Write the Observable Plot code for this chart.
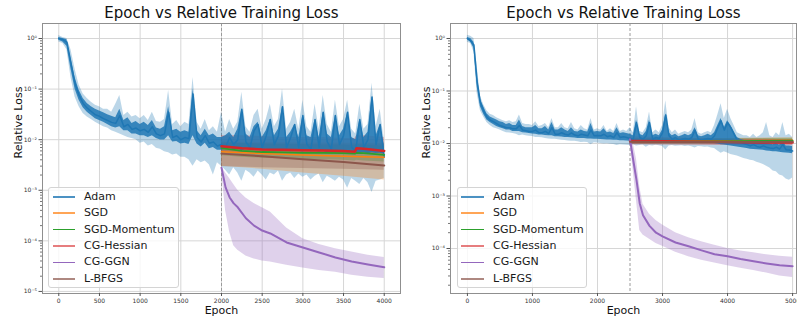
<!DOCTYPE html>
<html><head><meta charset="utf-8">
<script src="https://cdn.jsdelivr.net/npm/d3@7"></script>
<script src="https://cdn.jsdelivr.net/npm/@observablehq/plot@0.6"></script>
<style>
body{margin:0;background:#fff;font-family:"DejaVu Sans",sans-serif;}
#wrap{position:relative;width:797px;height:320px;display:flex;overflow:hidden;}
#wrap svg{display:block;flex:none;}
.legend{position:absolute;top:187px;height:101px;background:rgba(255,255,255,0.8);border:1px solid #d4d4d4;border-radius:3px;box-sizing:border-box;}
.row{position:absolute;left:0;right:0;height:16px;}
.sw{position:absolute;top:50%;}
.lab{position:absolute;top:0;line-height:16px;font-size:11px;color:#1a1a1a;white-space:nowrap;}
</style></head>
<body><div id="wrap"></div>
<script>
// ---------------- data ----------------
const names = ["Adam", "SGD", "SGD-Momentum", "CG-Hessian", "CG-GGN", "L-BFGS"];
const colors = ["#1f77b4", "#ff7f0e", "#2ca02c", "#d62728", "#9467bd", "#8c564b"];
const title = "Epoch vs Relative Training Loss";
const xLabel = "Epoch";
const yLabel = "Relative Loss";

// left panel (4000 epochs, switch at 2000)
const xTicksL = [0, 500, 1000, 1500, 2000, 2500, 3000, 3500, 4000];
const yTicksL = [1e-5, 1e-4, 1e-3, 1e-2, 1e-1, 1];
const switchL = 2000;
const adamEpochsL = d3.range(0, 4001, 50);
const adamMeanL = [1.0,0.95,0.85,0.33,0.13,0.075,0.052,0.042,0.036,0.031,0.029,0.026,0.024,0.022,0.021,0.03,0.018,0.02,0.016,0.017,0.015,0.016,0.014,0.018,0.013,0.012,0.013,0.035,0.011,0.012,0.01,0.011,0.0105,0.08,0.011,0.009,0.012,0.0085,0.009,0.0075,0.008,
 0.007,0.011,0.008,0.01,0.04,0.009,0.007,0.015,0.02,0.007,0.012,0.025,0.008,0.012,0.045,0.007,0.011,0.02,0.007,0.03,0.008,0.0065,0.025,0.007,0.035,0.009,0.0065,0.03,0.008,0.012,0.035,0.007,0.006,0.025,0.007,0.01,0.07,0.008,0.02,0.0045];
// envelope of the noisy Adam mean curve (dark band)
const adamDarkLoL = [0.92,0.85,0.7,0.25,0.1,0.06,0.043,0.035,0.03,0.026,0.024,0.022,0.02,0.018,0.017,0.018,0.015,0.015,0.013,0.013,0.012,0.012,0.011,0.012,0.0105,0.0098,0.0098,0.012,0.009,0.0092,0.0082,0.0085,0.008,0.012,0.0082,0.0072,0.0085,0.0066,0.007,0.0062,0.0062,
 0.0065,0.007,0.0062,0.0068,0.006,0.0065,0.0068,0.0062,0.0066,0.0061,0.0065,0.0062,0.0059,0.0064,0.0061,0.0062,0.0058,0.0062,0.006,0.0057,0.0061,0.0058,0.006,0.0057,0.0059,0.0056,0.0058,0.0055,0.0057,0.0059,0.0054,0.0056,0.0058,0.0054,0.0056,0.0052,0.0055,0.0053,0.0054,0.0052];
const adamDarkHiL = [1.05,1.0,0.95,0.4,0.17,0.095,0.065,0.052,0.045,0.04,0.037,0.034,0.031,0.029,0.027,0.04,0.024,0.027,0.021,0.023,0.02,0.022,0.019,0.024,0.017,0.016,0.018,0.045,0.015,0.016,0.014,0.015,0.014,0.1,0.015,0.012,0.016,0.012,0.013,0.011,0.011,
 0.012,0.014,0.011,0.016,0.04,0.013,0.011,0.018,0.022,0.011,0.015,0.025,0.012,0.016,0.045,0.011,0.014,0.02,0.011,0.03,0.012,0.011,0.025,0.011,0.035,0.013,0.011,0.03,0.012,0.016,0.035,0.011,0.01,0.025,0.011,0.014,0.07,0.012,0.02,0.008];
const adamLoL = [0.85,0.8,0.6,0.17,0.07,0.045,0.033,0.028,0.025,0.022,0.02,0.018,0.017,0.015,0.014,0.013,0.012,0.011,0.0105,0.01,0.0085,0.009,0.0075,0.008,0.0068,0.0065,0.0058,0.0055,0.005,0.0052,0.0045,0.0045,0.004,0.003,0.004,0.0035,0.0038,0.0032,0.002,0.0035,0.003,
 0.0025,0.002,0.0028,0.0022,0.0015,0.0025,0.0022,0.0018,0.0024,0.002,0.0016,0.0022,0.002,0.0024,0.0015,0.002,0.0022,0.0017,0.0021,0.0018,0.002,0.0016,0.0019,0.0021,0.0014,0.0019,0.0017,0.0015,0.0018,0.0016,0.0011,0.0017,0.0015,0.0013,0.0017,0.0014,0.0009,0.0015,0.0016,0.0017];
const adamHiL = [1.15,1.05,1.0,0.6,0.25,0.12,0.08,0.065,0.055,0.048,0.045,0.04,0.04,0.035,0.05,0.075,0.03,0.035,0.028,0.03,0.026,0.03,0.024,0.035,0.023,0.022,0.025,0.094,0.02,0.024,0.018,0.022,0.02,0.17,0.022,0.016,0.025,0.015,0.018,0.014,0.035,
 0.014,0.025,0.016,0.022,0.087,0.018,0.014,0.03,0.04,0.016,0.025,0.05,0.018,0.025,0.1,0.016,0.022,0.04,0.016,0.06,0.018,0.014,0.05,0.016,0.075,0.02,0.014,0.06,0.018,0.025,0.06,0.016,0.013,0.05,0.016,0.02,0.13,0.018,0.04,0.01];

const stepEpochsL = [2000, 2250, 2500, 2750, 3000, 3250, 3500, 3640, 3660, 3750, 4000];
const hessMeanL = [0.0074,0.0068,0.0064,0.0063,0.0062,0.0061,0.006,0.0058,0.0068,0.0066,0.006];
const hessHiL = [0.012,0.012,0.0115,0.011,0.011,0.011,0.0105,0.0105,0.012,0.012,0.011];
const hessLoL = [0.0058,0.0056,0.0055,0.0054,0.0053,0.0052,0.0052,0.0051,0.0056,0.0055,0.0052];
const momMeanL = [0.0068,0.006,0.0057,0.0056,0.0055,0.0055,0.0054,0.0053,0.0055,0.0054,0.005];
const momHiL = [0.009,0.0085,0.0082,0.008,0.008,0.0078,0.0078,0.0076,0.008,0.0078,0.0075];
const momLoL = [0.0048,0.0045,0.0043,0.0042,0.0041,0.004,0.0039,0.0038,0.0039,0.0038,0.0036];
const coarseEpochsL = [2000, 2500, 3000, 3500, 4000];
const sgdMeanL = [0.0058,0.0053,0.005,0.0047,0.0045];
const sgdHiL = [0.009,0.0088,0.0087,0.0086,0.0085];
const sgdLoL = [0.003,0.0026,0.0022,0.0019,0.0016];
const lbfgsMeanL = [0.0053,0.0047,0.0041,0.0036,0.0031];
const lbfgsHiL = [0.0085,0.0083,0.0082,0.0082,0.0082];
const lbfgsLoL = [0.0029,0.0028,0.0027,0.0026,0.0025];
const ggnEpochsL = [2000,2050,2100,2150,2200,2300,2400,2500,2600,2800,3000,3200,3400,3600,3800,4000];
const ggnMeanL = [0.0028,0.00114,7.2e-4,5.5e-4,4.6e-4,2.8e-4,2.0e-4,1.6e-4,1.4e-4,9.3e-5,7.4e-5,5.9e-5,4.7e-5,3.9e-5,3.4e-5,3.0e-5];
const ggnHiL = [0.003,0.0022,0.0017,0.0013,0.001,7e-4,5.5e-4,4.5e-4,3.7e-4,1.8e-4,1.1e-4,8.5e-5,7e-5,6e-5,5.2e-5,4.7e-5];
const ggnLoL = [0.0025,4e-4,1.5e-4,8e-5,6.5e-5,5e-5,4.4e-5,4e-5,3.8e-5,3.3e-5,2.9e-5,2.6e-5,2.4e-5,2.1e-5,1.9e-5,1.8e-5];

// right panel (5000 epochs, switch at 2500)
const xTicksR = [0, 1000, 2000, 3000, 4000, 5000];
const yTicksR = [1e-4, 1e-3, 1e-2, 1e-1, 1];
const switchR = 2500;
const adamEpochsR = d3.range(0, 5001, 50);
const adamMeanR = [1.0,0.9,0.75,0.15,0.06,0.042,0.032,0.028,0.026,0.024,0.022,0.021,0.02,0.02,0.019,0.019,0.022,0.018,0.0175,0.017,0.017,0.018,0.016,0.016,0.017,0.0155,0.02,0.015,0.015,0.016,0.015,0.0145,0.016,0.0145,0.014,0.015,0.0145,0.014,0.018,0.014,0.0142,0.014,0.015,0.0135,0.014,0.013,0.016,0.013,0.0135,0.013,0.0125,
 0.012,0.025,0.013,0.012,0.014,0.025,0.012,0.013,0.0125,0.016,0.035,0.014,0.012,0.013,0.0115,0.012,0.0125,0.012,0.013,0.018,0.012,0.0115,0.012,0.0125,0.012,0.014,0.02,0.027,0.018,0.025,0.02,0.015,0.0115,0.011,0.01,0.0095,0.009,0.0095,0.0088,0.0085,0.009,0.0085,0.0082,0.008,0.0085,0.0078,0.0095,0.0076,0.0075,0.0072];
const adamDarkLoR = [0.95,0.85,0.65,0.12,0.05,0.036,0.028,0.025,0.023,0.021,0.02,0.019,0.018,0.018,0.017,0.017,0.017,0.016,0.0158,0.0155,0.0152,0.015,0.0145,0.0145,0.0142,0.014,0.014,0.0135,0.0135,0.0133,0.013,0.013,0.0128,0.0127,0.0125,0.0125,0.0124,0.0122,0.0122,0.012,0.012,0.0119,0.0118,0.0117,0.0116,0.0115,0.0115,0.0113,0.0113,0.0112,0.011,
 0.0106,0.0105,0.0107,0.0106,0.0105,0.0106,0.0105,0.0106,0.0105,0.0104,0.0105,0.0104,0.0105,0.0104,0.0103,0.0104,0.0103,0.0104,0.0103,0.0102,0.0103,0.0102,0.0101,0.0102,0.0101,0.01,0.0098,0.0095,0.0094,0.0092,0.009,0.0088,0.0086,0.0084,0.0082,0.008,0.0078,0.0077,0.0076,0.0075,0.0074,0.0072,0.0071,0.007,0.007,0.0068,0.0067,0.0066,0.0065,0.0064];
const adamDarkHiR = [1.05,1.0,0.85,0.2,0.07,0.05,0.037,0.032,0.03,0.028,0.026,0.025,0.023,0.024,0.022,0.022,0.028,0.021,0.02,0.02,0.02,0.022,0.019,0.019,0.021,0.018,0.025,0.018,0.018,0.02,0.018,0.017,0.02,0.017,0.0165,0.018,0.017,0.0165,0.024,0.0165,0.017,0.0165,0.019,0.016,0.0165,0.0155,0.02,0.0155,0.016,0.0155,0.015,
 0.014,0.028,0.015,0.014,0.017,0.028,0.014,0.015,0.014,0.018,0.037,0.016,0.014,0.015,0.0135,0.014,0.015,0.014,0.015,0.02,0.014,0.0135,0.014,0.015,0.014,0.016,0.022,0.03,0.02,0.027,0.022,0.017,0.013,0.012,0.0115,0.011,0.0105,0.011,0.0102,0.01,0.0105,0.01,0.0098,0.0095,0.01,0.0093,0.011,0.009,0.009,0.0088];
const adamHiR = [1.15,1.1,1.0,0.3,0.08,0.055,0.042,0.036,0.034,0.031,0.029,0.027,0.026,0.027,0.025,0.026,0.035,0.024,0.023,0.023,0.022,0.026,0.021,0.022,0.024,0.02,0.03,0.02,0.02,0.024,0.02,0.019,0.025,0.019,0.018,0.022,0.019,0.018,0.03,0.018,0.019,0.018,0.022,0.017,0.019,0.017,0.024,0.017,0.018,0.017,0.02,
 0.016,0.05,0.017,0.016,0.02,0.04,0.016,0.018,0.016,0.022,0.065,0.02,0.016,0.018,0.015,0.016,0.017,0.016,0.018,0.03,0.016,0.015,0.016,0.017,0.016,0.022,0.035,0.057,0.03,0.045,0.03,0.022,0.016,0.015,0.014,0.014,0.013,0.015,0.013,0.014,0.016,0.025,0.014,0.013,0.016,0.014,0.025,0.014,0.015,0.013];
const adamLoR = [0.85,0.8,0.55,0.09,0.042,0.032,0.025,0.022,0.02,0.019,0.018,0.017,0.016,0.0158,0.0155,0.015,0.014,0.0145,0.014,0.0138,0.0136,0.013,0.013,0.0128,0.0125,0.0122,0.012,0.012,0.0118,0.0115,0.0114,0.0112,0.011,0.011,0.0108,0.0105,0.0106,0.0104,0.0095,0.0103,0.0102,0.01,0.0098,0.0099,0.0097,0.0096,0.0092,0.0095,0.0094,0.0093,0.0092,
 0.0095,0.009,0.0092,0.0094,0.0085,0.0092,0.009,0.0093,0.0091,0.0088,0.0075,0.009,0.0092,0.0089,0.009,0.0091,0.0088,0.009,0.0087,0.0082,0.0088,0.0087,0.0085,0.0086,0.0082,0.008,0.0072,0.0065,0.007,0.0066,0.0062,0.006,0.0058,0.0055,0.0052,0.005,0.0048,0.0047,0.0044,0.0042,0.004,0.0037,0.0034,0.003,0.0029,0.0025,0.0024,0.0021,0.002,0.0022];

const stepEpochsR = [2500, 3000, 3500, 4000, 4500, 5000];
const hessMeanR = [0.0112,0.011,0.0108,0.0107,0.0105,0.0104];
const hessHiR = [0.0135,0.013,0.0125,0.012,0.012,0.0118];
const hessLoR = [0.0095,0.0094,0.0093,0.0092,0.0092,0.0091];
const sgdMeanR = [0.0112,0.0112,0.0112,0.0113,0.0114,0.0115];
const sgdHiR = [0.0125,0.0124,0.0124,0.0125,0.0127,0.0128];
const sgdLoR = [0.0099,0.0099,0.0099,0.01,0.01,0.0101];
const momMeanR = [0.011,0.011,0.011,0.0111,0.0112,0.0113];
const momHiR = [0.0123,0.0122,0.0122,0.0123,0.0125,0.0126];
const momLoR = [0.0098,0.0098,0.0098,0.0099,0.0099,0.01];
const lbfgsMeanR = [0.0108,0.0107,0.0107,0.0107,0.0107,0.0108];
const lbfgsHiR = [0.012,0.0119,0.0119,0.012,0.012,0.0121];
const lbfgsLoR = [0.0096,0.0095,0.0095,0.0095,0.0095,0.0095];
const ggnEpochsR = [2500,2550,2600,2650,2700,2800,2900,3000,3200,3400,3600,3800,4000,4200,4400,4600,4800,5000];
const ggnMeanR = [0.012,0.0048,0.002,7.2e-4,4.3e-4,2.7e-4,2e-4,1.7e-4,1.3e-4,1.1e-4,9.2e-5,7.8e-5,7.1e-5,6.3e-5,5.7e-5,5.2e-5,4.8e-5,4.6e-5];
const ggnHiR = [0.013,0.01,0.005,1.5e-3,7e-4,4.5e-4,3.4e-4,2.8e-4,2e-4,1.6e-4,1.35e-4,1.15e-4,1e-4,9e-5,8.3e-5,7.6e-5,7.1e-5,6.8e-5];
const ggnLoR = [0.011,0.003,8e-4,2.2e-4,1.8e-4,1.5e-4,1.25e-4,1.1e-4,8.5e-5,7e-5,6e-5,5.3e-5,4.7e-5,4.2e-5,3.8e-5,3.4e-5,3e-5,2.8e-5];

// ---------------- helpers ----------------
function rows(epochs, mean, lo, hi) {
  return epochs.map((e, i) => ({epoch: e, mean: mean[i], lo: lo[i], hi: hi[i]}));
}
const sup = {"-":"⁻","0":"⁰","1":"¹","2":"²","3":"³","4":"⁴","5":"⁵","6":"⁶","7":"⁷","8":"⁸","9":"⁹"};
const fmtPow = v => "10" + String(Math.round(Math.log10(v))).split("").map(c => sup[c]).join("");
function minorTicks(domain) {
  const out = [];
  for (let k = -6; k <= 0; k++) for (let m = 2; m <= 9; m++) {
    const v = m * Math.pow(10, k);
    if (v > domain[0] && v < domain[1]) out.push(v);
  }
  return out;
}
const widths = [1.5, 1.5, 1.8, 2.5, 2, 2];

function panel(cfg) {
  const marks = [
    Plot.gridX(cfg.xTicks, {stroke: "#d6d6d6", strokeOpacity: 1, strokeWidth: 1}),
    Plot.gridY(cfg.yTicks, {stroke: "#d6d6d6", strokeOpacity: 1, strokeWidth: 1}),
    Plot.ruleX([cfg.switchAt], {stroke: "#9a9a9a", strokeWidth: 1, strokeDasharray: "3,2"})
  ];
  const adam = cfg.series[0];
  // light bands
  cfg.series.forEach(s => {
    const ci = names.indexOf(s.name);
    marks.push(Plot.areaY(s.data, {x: "epoch", y1: "lo", y2: "hi", fill: colors[ci], fillOpacity: 0.3, clip: true}));
  });
  // Adam noisy curve
  marks.push(Plot.areaY(cfg.adamDark, {x: "epoch", y1: "lo", y2: "hi", fill: colors[0], fillOpacity: 0.85, clip: true}));
  marks.push(Plot.lineY(adam.data, {x: "epoch", y: "mean", stroke: colors[0], strokeWidth: widths[0], clip: true}));
  cfg.series.slice(1).forEach(s => {
    const ci = names.indexOf(s.name);
    marks.push(Plot.lineY(s.data, {x: "epoch", y: "mean", stroke: colors[ci], strokeWidth: widths[ci], clip: true}));
  });
  marks.push(
    Plot.frame({stroke: "#8f8f8f"}),
    Plot.axisX({ticks: cfg.xTicks, tickFormat: d => String(d), tickSize: 3, tickPadding: 2, fontSize: 6, label: null, stroke: "#555"}),
    Plot.axisY({ticks: cfg.yTicks, tickFormat: fmtPow, tickSize: 3.5, tickPadding: 2, fontSize: 6, label: null, stroke: "#555"}),
    Plot.axisY({ticks: minorTicks(cfg.yDomain), tickFormat: () => "", tickSize: 2, label: null, stroke: "#777"}),
    Plot.text([title], {frameAnchor: "top", dy: -10, lineAnchor: "middle", fontSize: 15, fill: "#111"}),
    Plot.text([xLabel], {frameAnchor: "bottom", dy: 17, lineAnchor: "middle", fontSize: 11, fill: "#111"}),
    Plot.text([yLabel], {frameAnchor: "left", dx: -24, rotate: -90, lineAnchor: "middle", fontSize: 11, fill: "#111"})
  );
  return Plot.plot({
    width: cfg.width, height: 320,
    marginLeft: cfg.marginLeft, marginRight: 1, marginTop: 23, marginBottom: 27,
    style: {fontFamily: "DejaVu Sans", background: "white", color: "#333", overflow: "visible"},
    x: {domain: cfg.xDomain, axis: null},
    y: {type: "log", domain: cfg.yDomain, axis: null},
    marks
  });
}

const left = panel({
  width: 401, marginLeft: 42, xDomain: [-200, 4200], yDomain: [9.1e-6, 1.98],
  xTicks: xTicksL, yTicks: yTicksL, switchAt: switchL,
  adamDark: rows(adamEpochsL, adamMeanL, adamDarkLoL, adamDarkHiL),
  series: [
    {name: "Adam", data: rows(adamEpochsL, adamMeanL, adamLoL, adamHiL)},
    {name: "SGD", data: rows(coarseEpochsL, sgdMeanL, sgdLoL, sgdHiL)},
    {name: "SGD-Momentum", data: rows(stepEpochsL, momMeanL, momLoL, momHiL)},
    {name: "CG-Hessian", data: rows(stepEpochsL, hessMeanL, hessLoL, hessHiL)},
    {name: "CG-GGN", data: rows(ggnEpochsL, ggnMeanL, ggnLoL, ggnHiL)},
    {name: "L-BFGS", data: rows(coarseEpochsL, lbfgsMeanL, lbfgsLoL, lbfgsHiL)}
  ]
});
const right = panel({
  width: 396, marginLeft: 49, xDomain: [-260, 5060], yDomain: [1.39e-5, 1.93],
  xTicks: xTicksR, yTicks: yTicksR, switchAt: switchR,
  adamDark: rows(adamEpochsR, adamMeanR, adamDarkLoR, adamDarkHiR),
  series: [
    {name: "Adam", data: rows(adamEpochsR, adamMeanR, adamLoR, adamHiR)},
    {name: "SGD", data: rows(stepEpochsR, sgdMeanR, sgdLoR, sgdHiR)},
    {name: "SGD-Momentum", data: rows(stepEpochsR, momMeanR, momLoR, momHiR)},
    {name: "CG-Hessian", data: rows(stepEpochsR, hessMeanR, hessLoR, hessHiR)},
    {name: "CG-GGN", data: rows(ggnEpochsR, ggnMeanR, ggnLoR, ggnHiR)},
    {name: "L-BFGS", data: rows(stepEpochsR, lbfgsMeanR, lbfgsLoR, lbfgsHiR)}
  ]
});
const wrap = document.getElementById("wrap");
wrap.appendChild(left);
wrap.appendChild(right);

// legends
const legendStyle = [1.5, 2, 1.2, 2.5, 1.2, 2];
const legendOpacity = [0.8, 0.7, 1, 0.6, 1, 0.7];
function legend(leftPx, widthPx, swLeft, swWidth, textLeft) {
  const box = document.createElement("div");
  box.className = "legend";
  box.style.left = leftPx + "px";
  box.style.width = widthPx + "px";
  names.forEach((n, i) => {
    const r = document.createElement("div");
    r.className = "row";
    r.style.top = (1 + i * 16.3) + "px";
    const sw = document.createElement("div");
    sw.className = "sw";
    sw.style.left = swLeft + "px";
    sw.style.width = swWidth + "px";
    sw.style.height = legendStyle[i] + "px";
    sw.style.marginTop = (-legendStyle[i] / 2) + "px";
    sw.style.background = colors[i];
    sw.style.opacity = legendOpacity[i];
    const t = document.createElement("div");
    t.className = "lab";
    t.style.left = textLeft + "px";
    t.textContent = n;
    r.appendChild(sw); r.appendChild(t);
    box.appendChild(r);
  });
  wrap.appendChild(box);
}
legend(48, 131, 4, 22, 35);
legend(457, 130, 3, 23, 35);
</script>
</body></html>
